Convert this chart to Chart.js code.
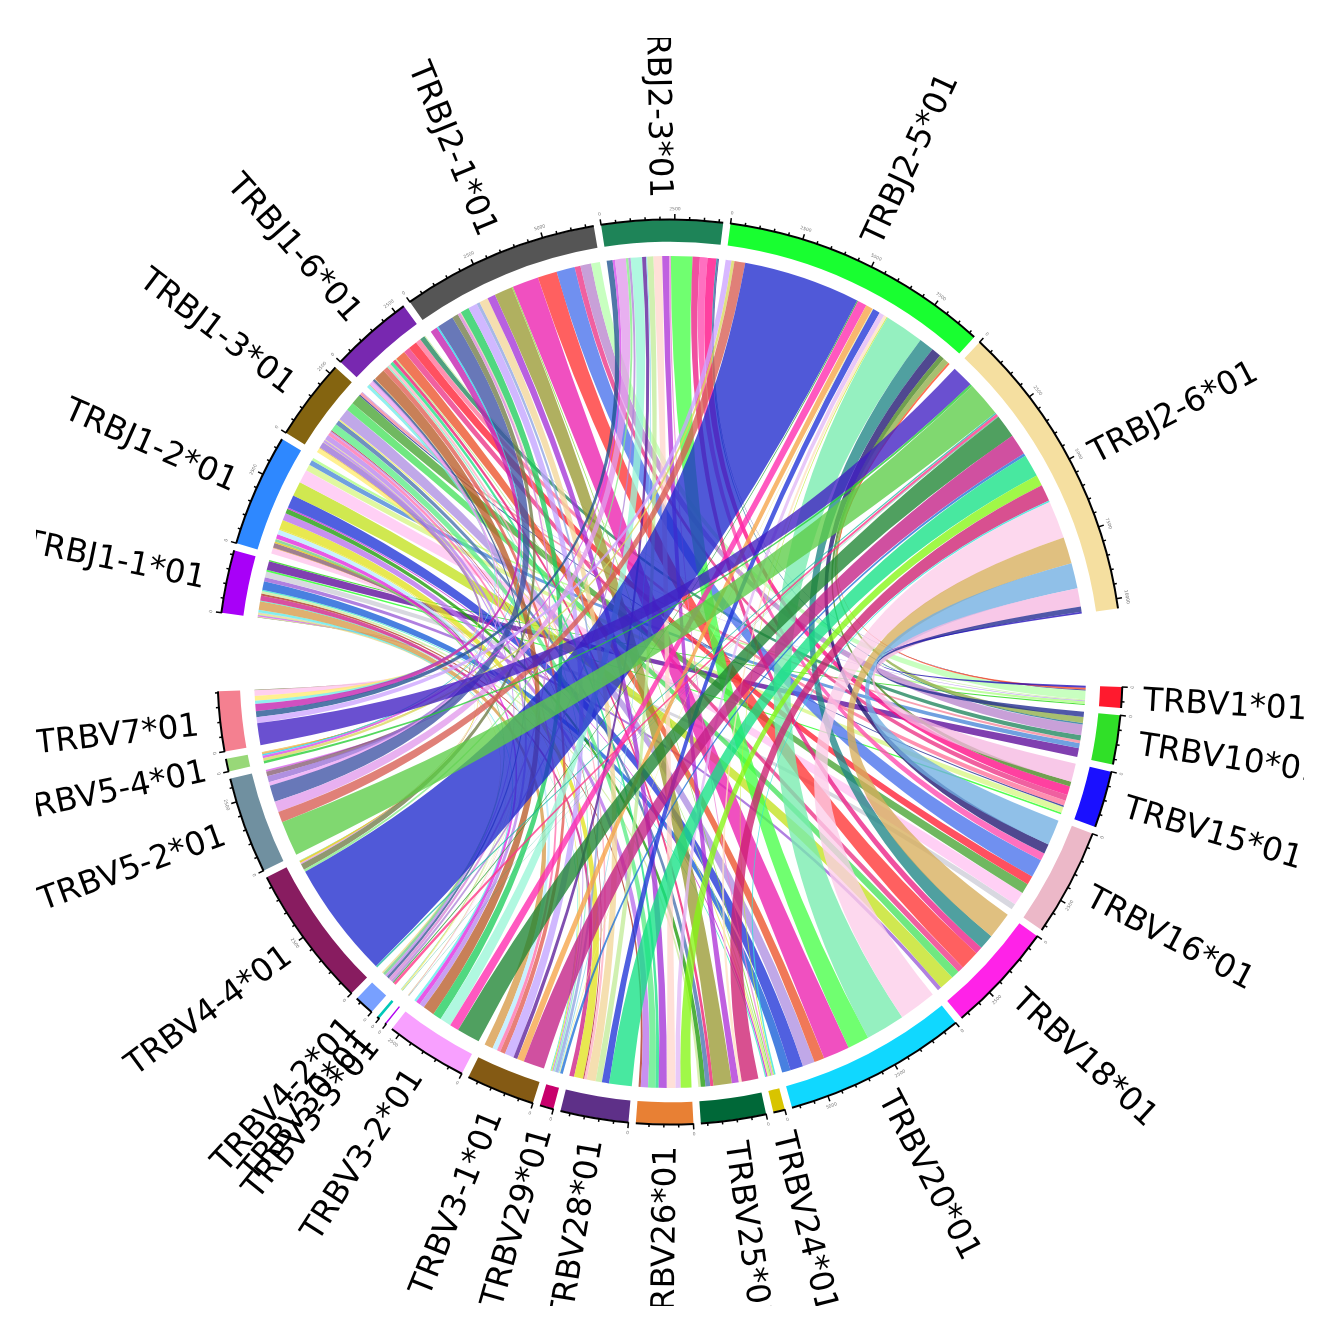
<!DOCTYPE html>
<html>
<head>
<meta charset="utf-8">
<title>TRBV / TRBJ chord diagram</title>
<script src="https://cdn.jsdelivr.net/npm/chart.js@4"></script>
<style>
    html, body { margin: 0; padding: 0; background: #fff; }
    #chart { position: absolute; left: 36px; top: 38px; }
</style>
</head>
<body>
<canvas id="chart" width="1268" height="1268"></canvas>
<script>
// Sectors, clockwise from the right hand side
const vGenes = ['TRBV1*01', 'TRBV10*01', 'TRBV15*01', 'TRBV16*01', 'TRBV18*01', 'TRBV20*01', 'TRBV24*01',
    'TRBV25*01', 'TRBV26*01', 'TRBV28*01', 'TRBV29*01', 'TRBV3-1*01', 'TRBV3-2*01', 'TRBV3-3*01', 'TRBV30*01',
    'TRBV4-2*01', 'TRBV4-4*01', 'TRBV5-2*01', 'TRBV5-4*01', 'TRBV7*01'];
const jGenes = ['TRBJ1-1*01', 'TRBJ1-2*01', 'TRBJ1-3*01', 'TRBJ1-6*01', 'TRBJ2-1*01', 'TRBJ2-3*01', 'TRBJ2-5*01', 'TRBJ2-6*01'];

const vColors = ['#ff1a2e', '#30e028', '#1a10ff', '#ecb8c8', '#ff22e8', '#10d8ff', '#d8c400', '#006838', '#e88034', '#5e3088',
    '#c8006c', '#845a14', '#f8a0ff', '#b000f0', '#00c8b8', '#78a0ff', '#881c60', '#7090a0', '#98d878', '#f48090'];
const jColors = ['#a800f8', '#2e88ff', '#846410', '#7828b0', '#555555', '#1e8458', '#18ff30', '#f5dfa0'];

// Counts per J gene. Columns run V7 first, down to V1 last
const flowsJ11 = [20, 15, 60, 20, 60, 15, 5, 90, 320, 30, 180, 80, 90, 50, 320, 150, 220, 60, 330, 40];
const flowsJ12 = [210, 20, 175, 60, 100, 15, 5, 160, 180, 40, 340, 270, 175, 50, 480, 550, 500, 230, 190, 100];
const flowsJ13 = [170, 30, 225, 20, 90, 15, 10, 190, 130, 50, 40, 270, 175, 50, 450, 310, 370, 50, 100, 30];
const flowsJ16 = [120, 20, 130, 40, 90, 15, 10, 430, 190, 60, 100, 120, 120, 50, 380, 230, 330, 190, 190, 40];
const flowsJ21 = [270, 60, 620, 230, 110, 15, 10, 320, 340, 120, 330, 300, 680, 40, 980, 720, 680, 220, 400, 330];
const flowsJ23 = [220, 90, 400, 90, 90, 0, 0, 420, 150, 40, 230, 320, 260, 60, 800, 270, 280, 330, 60, 30];
const flowsJ25 = [220, 110, 400, 4350, 40, 0, 0, 340, 260, 30, 270, 190, 110, 40, 1465, 560, 360, 180, 220, 70];
const flowsJ26 = [820, 90, 1300, 60, 100, 15, 10, 860, 780, 100, 840, 400, 620, 60, 1400, 990, 950, 680, 190, 70];
const flows = [flowsJ11, flowsJ12, flowsJ13, flowsJ16, flowsJ21, flowsJ23, flowsJ25, flowsJ26];

// Link colours, same column order
const linksJ11 = ['8a9060', 'f0f0a0', 'e080f0', '90e8a0', 'f0e0a0', '60e0d0', 'f0c0d0', '80f0f0', 'e0b070', '60f0d0', 'd850a0', 'c06050', 'd8f0b0', '60f0d0', '4880e0', 'b080e0', 'd8d8e0', '50ff50', '8040b0', '50e040'];
const linksJ12 = ['ffd0f0', 'f0b040', 'a08090', 'e8d040', '90d8a0', 'f0e0a0', 'd0f0a0', 'e858e8', 'c8f0ff', 'e8e850', 'e8e850', 'c890f0', '50b040', 'd050e0', '5060e0', 'd0e850', 'ffd0f5', 'e0f8a0', '70a0e0', 'c0ffa0'];
const linksJ13 = ['fff090', 'e8c060', 'b090e0', 'f0e060', 'c8a0f0', 'f0f080', 'e8e860', 'c8a0f0', 'ff90c0', 'c8a0f0', 'c05060', '80f0a0', '7090c0', 'f0f080', 'c0a8e8', '70e880', '70b860', '5058a8', 'f8a0b0', 'c0a0f0'];
const linksJ16 = ['90f0f0', 'f0a040', 'f0b8f8', 'e0a0f0', '6078a8', 'e0e060', 'f0a0c0', 'c88058', 'e88078', 'a0f0d0', 'ffc0d0', '50e8a0', 'f05090', 'c0f0a0', 'f07858', 'f060a0', 'ff5060', 'ff90b0', '50a080', 'd0f0b0'];
const linksJ21 = ['d050c0', '50e0f0', '6878b8', '909870', 'e0a0e0', 'f0f080', 'f0a0e0', '50d880', 'd0b8ff', 'a8b8e8', 'f5dfb0', 'b860e0', 'b0b060', 'a0e060', 'f050c0', 'ff6060', '7090f0', 'f060a0', 'c8a0d8', 'c8ffc0'];
const linksJ23 = ['5078a8', 'e070f0', 'e8b0f0', 'a0f0a0', 'c0a0e0', 'ffffff', 'ffffff', 'b0f8e0', '8050b0', 'a0e0f0', 'd0f0b0', 'ffe0d8', 'c060e0', 'f0a0e0', '70ff70', 'f050a0', 'ff70c0', 'ff40a0', '5090b0', '5050a0'];
const linksJ25 = ['d8b8ff', 'e0e080', 'e08078', '5059d8', '50b060', 'ffffff', 'ffffff', 'ff58c0', 'f8b870', 'f0f0a0', '5060e0', 'e8c8f8', 'ffe8d0', 'd0f060', '95f0c0', '50a0a0', '504890', '70a050', 'a8c070', 'ff7050'];
const linksJ26 = ['6a50d0', '54d860', '80d870', '50c8b8', 'ff60a0', '50c0a0', '50c0a0', '50a060', 'd050a0', '5090e0', '48e8a0', 'a0f848', 'd85090', '60e8e0', 'fdd8ee', 'e0c080', '90c0e8', 'f8c8e8', '5058a8', '5040c8'];
const linkColors = [linksJ11, linksJ12, linksJ13, linksJ16, linksJ21, linksJ23, linksJ25, linksJ26];

const tickMinor = 500;
const tickMajor = 2500;
const smallGap = 250;
const openGap = 2660;

const ringRadius = 452;
const linkRadius = 416;
const labelRadius = 474;
const labelDrop = 3;
const linkAlpha = 0.78;

const vColumns = [...vGenes].reverse();
const sum = arr => arr.reduce((a, b) => a + b, 0);

// Sector sizes come from the table
const vSizes = vGenes.map(name => sum(flows.map(row => row[vColumns.indexOf(name)])));
const jSizes = flows.map(sum);

const sectorNames = [...vGenes, ...jGenes];
const sectorSizes = [...vSizes, ...jSizes];
const sectorColors = [...vColors, ...jColors];

// Ring values, with a see-through slice after each sector. V and J are kept apart by a wide opening
const isOpening = i => i === vGenes.length - 1 || i === sectorNames.length - 1;
const ringValues = sectorSizes.flatMap((size, i) => [size, isOpening(i) ? openGap : smallGap]);
const ringColors = sectorColors.flatMap(color => [color, 'rgba(0,0,0,0)']);

// Links are listed with their colour as seen on white, undo that for the alpha
function linkFill(hex) {
    const channels = [0, 2, 4].map(i => parseInt(hex.substr(i, 2), 16));
    const src = channels.map(c => Math.max(0, Math.round((c - 255 * (1 - linkAlpha)) / linkAlpha)));
    return `rgba(${src[0]}, ${src[1]}, ${src[2]}, ${linkAlpha})`;
}

// Chord ribbons, placed along the arcs the doughnut has laid out
const ribbonPlugin = {
    id: 'ribbons',
    beforeDatasetsDraw(chart) {
        const ctx = chart.ctx;
        const arcs = chart.getDatasetMeta(0).data;
        const cx = arcs[0].x;
        const cy = arcs[0].y;
        const vCount = vGenes.length;

        // angle per unit, and a running cursor for each sector
        const perUnit = i => (arcs[i * 2].endAngle - arcs[i * 2].startAngle) / sectorSizes[i];
        const vCursor = vGenes.map((name, i) => arcs[i * 2].startAngle);
        const ribbons = flows.map(() => []);

        // V sectors take the J genes from last to first
        for (let v = 0; v < vCount; v++) {
            const col = vColumns.indexOf(vGenes[v]);
            for (let j = flows.length - 1; j >= 0; j--) {
                const span = flows[j][col] * perUnit(v);
                ribbons[j][col] = [vCursor[v], vCursor[v] + span];
                vCursor[v] += span;
            }
        }

        ctx.save();
        flows.forEach((row, j) => {
            const sector = vCount + j;
            let cursor = arcs[sector * 2].startAngle;
            row.forEach((value, col) => {
                const span = value * perUnit(sector);
                const [b1, b2] = ribbons[j][col];
                const a1 = cursor;
                const a2 = cursor + span;
                cursor = a2;
                if (!value) {
                    return;
                }
                ctx.beginPath();
                ctx.arc(cx, cy, linkRadius, a1, a2);
                ctx.quadraticCurveTo(cx, cy, cx + linkRadius * Math.cos(b1), cy + linkRadius * Math.sin(b1));
                ctx.arc(cx, cy, linkRadius, b1, b2);
                ctx.quadraticCurveTo(cx, cy, cx + linkRadius * Math.cos(a1), cy + linkRadius * Math.sin(a1));
                ctx.closePath();
                ctx.fillStyle = linkFill(linkColors[j][col]);
                ctx.fill();
            });
        });
        ctx.restore();
    },

    // Base line, ticks and names around the ring
    afterDatasetsDraw(chart) {
        const ctx = chart.ctx;
        const arcs = chart.getDatasetMeta(0).data;
        const cx = arcs[0].x;
        const cy = arcs[0].y;

        ctx.save();
        sectorNames.forEach((name, i) => {
            const arc = arcs[i * 2];
            const size = sectorSizes[i];
            const span = arc.endAngle - arc.startAngle;

            ctx.strokeStyle = '#000';
            ctx.lineWidth = 2;
            ctx.beginPath();
            ctx.arc(cx, cy, ringRadius + 0.5, arc.startAngle, arc.endAngle);
            ctx.stroke();

            for (let value = 0; value <= size; value += tickMinor) {
                const angle = arc.startAngle + span * value / size;
                const isMajor = value % tickMajor === 0;
                const len = isMajor ? 6 : 3.5;
                ctx.lineWidth = 1.5;
                ctx.beginPath();
                ctx.moveTo(cx + ringRadius * Math.cos(angle), cy + ringRadius * Math.sin(angle));
                ctx.lineTo(cx + (ringRadius + len) * Math.cos(angle), cy + (ringRadius + len) * Math.sin(angle));
                ctx.stroke();

                if (isMajor) {
                    // tiny value label, along the ring
                    const flip = Math.sin(angle) > 0;
                    ctx.save();
                    ctx.translate(cx + (ringRadius + 11) * Math.cos(angle), cy + (ringRadius + 11) * Math.sin(angle));
                    ctx.rotate(angle + (flip ? -Math.PI / 2 : Math.PI / 2));
                    ctx.font = '4.5px "DejaVu Sans"';
                    ctx.fillStyle = '#777';
                    ctx.textAlign = 'center';
                    ctx.textBaseline = 'middle';
                    ctx.fillText(String(value), 0, 0);
                    ctx.restore();
                }
            }

            // Gene name, radial, always readable
            const mid = (arc.startAngle + arc.endAngle) / 2;
            const onRight = Math.cos(mid) >= 0;
            ctx.save();
            ctx.translate(cx + labelRadius * Math.cos(mid), cy + labelRadius * Math.sin(mid));
            ctx.rotate(onRight ? mid : mid + Math.PI);
            ctx.font = '32.5px "DejaVu Sans"';
            ctx.fillStyle = '#000';
            ctx.textAlign = onRight ? 'left' : 'right';
            ctx.textBaseline = 'middle';
            ctx.fillText(name, 0, labelDrop);
            ctx.restore();
        });
        ctx.restore();
    }
};

new Chart(document.getElementById('chart'), {
    type: 'doughnut',
    data: {
        labels: sectorNames.flatMap(name => [name, '']),
        datasets: [{
            data: ringValues,
            backgroundColor: ringColors,
            borderWidth: 0
        }]
    },
    options: {
        responsive: false,
        animation: false,
        devicePixelRatio: 1,
        rotation: 91.9,
        radius: ringRadius,
        cutout: '95.2%',
        plugins: {
            legend: { display: false },
            tooltip: { enabled: false }
        }
    },
    plugins: [ribbonPlugin]
});
</script>
</body>
</html>
